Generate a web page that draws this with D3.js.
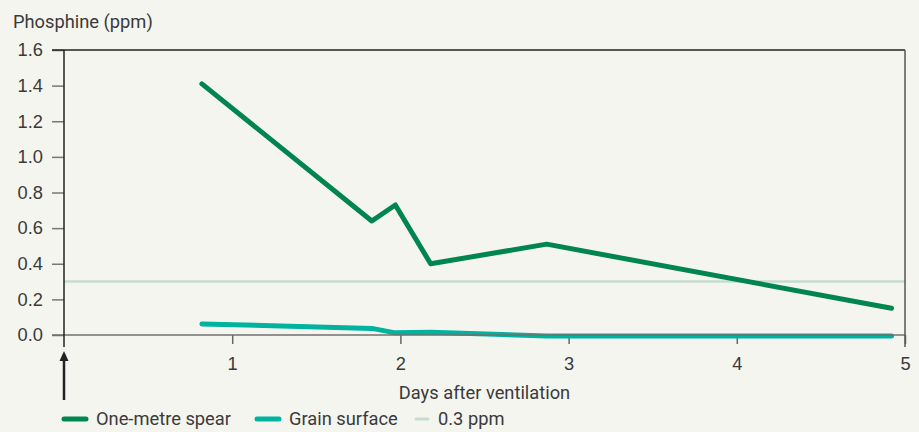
<!DOCTYPE html>
<html>
<head>
<meta charset="utf-8">
<script src="https://cdn.jsdelivr.net/npm/d3@7"></script>
<style>
  body { margin: 0; background: #f5f5f0; }
  svg { display: block; font-family: Roboto, "DejaVu Sans Condensed", sans-serif; }
</style>
</head>
<body>
<div class="chart"></div>
<script>
// Data
const spearDays = [0.82, 1.83, 1.97, 2.18, 2.87, 4.92];
const spearPpm = [1.41, 0.64, 0.73, 0.40, 0.51, 0.15];
const surfaceDays = [0.82, 1.83, 1.97, 2.18, 2.87, 4.92];
const surfacePpm = [0.062, 0.037, 0.012, 0.015, -0.005, -0.005];
const threshold = 0.3;
const yTicks = [0, 0.2, 0.4, 0.6, 0.8, 1.0, 1.2, 1.4, 1.6];
const xTicks = [1, 2, 3, 4, 5];
const legendLabels = ["One-metre spear", "Grain surface", "0.3 ppm"];

const W = 919, H = 432;
const margin = {top: 50, right: 14, bottom: 97, left: 64};
const width = W - margin.left - margin.right;
const height = H - margin.top - margin.bottom;

const x = d3.scaleLinear().domain([0, 5]).range([0, width]);
const y = d3.scaleLinear().domain([0, 1.6]).range([height, 0]);

const colSpear = "#00854f", colSurface = "#00b39f", colThresh = "#c4ddd2";
const fs = 18.3, txt = "#3a3a3a";

const svg = d3.select(".chart").append("svg")
    .attr("width", W)
    .attr("height", H);

const g = svg.append("g")
    .attr("transform", "translate(" + margin.left + "," + margin.top + ")");

// y axis title
svg.append("text")
    .attr("x", 13).attr("y", 28)
    .attr("font-size", fs).attr("fill", txt)
    .text("Phosphine (ppm)");

// y ticks + labels
const yAxis = d3.axisLeft(y).tickValues(yTicks).tickFormat(d3.format(".1f")).tickSize(12).tickPadding(9);
const ya = g.append("g").call(yAxis);
ya.select(".domain").remove();
ya.selectAll("line").attr("stroke", "#777").attr("stroke-width", 1.5);
ya.selectAll("text").attr("font-size", fs).attr("fill", txt).attr("font-family", null);

// x ticks + labels
const xAxis = d3.axisBottom(x).tickValues(xTicks).tickFormat(d3.format("d")).tickSize(9).tickPadding(13);
const xa = g.append("g").attr("transform", "translate(0," + height + ")").call(xAxis);
xa.select(".domain").remove();
xa.selectAll("line").attr("stroke", "#666").attr("stroke-width", 1.5);
xa.selectAll("text").attr("font-size", fs).attr("fill", txt).attr("font-family", null);

// x axis title
g.append("text")
    .attr("x", x(2.5)).attr("y", height + 64)
    .attr("text-anchor", "middle")
    .attr("font-size", fs).attr("fill", txt)
    .text("Days after ventilation");

// threshold line
g.append("line")
    .attr("x1", 0).attr("x2", width)
    .attr("y1", y(threshold)).attr("y2", y(threshold))
    .attr("stroke", colThresh).attr("stroke-width", 2.5);

const line = d3.line().x(d => x(d[0])).y(d => y(d[1]));

// grain surface
g.append("path")
    .datum(d3.zip(surfaceDays, surfacePpm))
    .attr("fill", "none").attr("stroke", colSurface)
    .attr("stroke-width", 5).attr("stroke-linecap", "round").attr("stroke-linejoin", "round")
    .attr("d", line);

// zero line
g.append("line")
    .attr("x1", -12).attr("x2", width)
    .attr("y1", y(0)).attr("y2", y(0))
    .attr("stroke", "#6f6f6f").attr("stroke-width", 1.5);

// one-metre spear
g.append("path")
    .datum(d3.zip(spearDays, spearPpm))
    .attr("fill", "none").attr("stroke", colSpear)
    .attr("stroke-width", 5).attr("stroke-linecap", "round").attr("stroke-linejoin", "round")
    .attr("d", line);

// frame: left, top, right
g.append("line").attr("x1", 0).attr("x2", 0).attr("y1", 0).attr("y2", height + 12)
    .attr("stroke", "#222").attr("stroke-width", 1.5);
g.append("line").attr("x1", -12).attr("x2", width).attr("y1", 0).attr("y2", 0)
    .attr("stroke", "#222").attr("stroke-width", 1.5);
g.append("line").attr("x1", width).attr("x2", width).attr("y1", 0).attr("y2", height + 12)
    .attr("stroke", "#555").attr("stroke-width", 1.5);

// ventilation arrow
g.append("line").attr("x1", 0).attr("x2", 0).attr("y1", height + 65).attr("y2", height + 24)
    .attr("stroke", "#222").attr("stroke-width", 2.5);
g.append("path")
    .attr("d", d3.line()([[-4.5, height + 26], [0, height + 16], [4.5, height + 26]]) + "Z")
    .attr("fill", "#222");

// legend
const legendX = [62, 255, 414];
const legendLen = [26, 26, 16];
const legendCol = [colSpear, colSurface, colThresh];
const legendW = [5, 5, 3];
const leg = svg.append("g").attr("transform", "translate(0,419)");
legendLabels.forEach((lab, i) => {
  leg.append("line")
      .attr("x1", legendX[i] + 2).attr("x2", legendX[i] + legendLen[i] - 2)
      .attr("stroke", legendCol[i]).attr("stroke-width", legendW[i]).attr("stroke-linecap", "round");
  leg.append("text")
      .attr("x", legendX[i] + legendLen[i] + 8).attr("y", 6)
      .attr("font-size", fs).attr("fill", txt)
      .text(lab);
});
</script>
</body>
</html>
